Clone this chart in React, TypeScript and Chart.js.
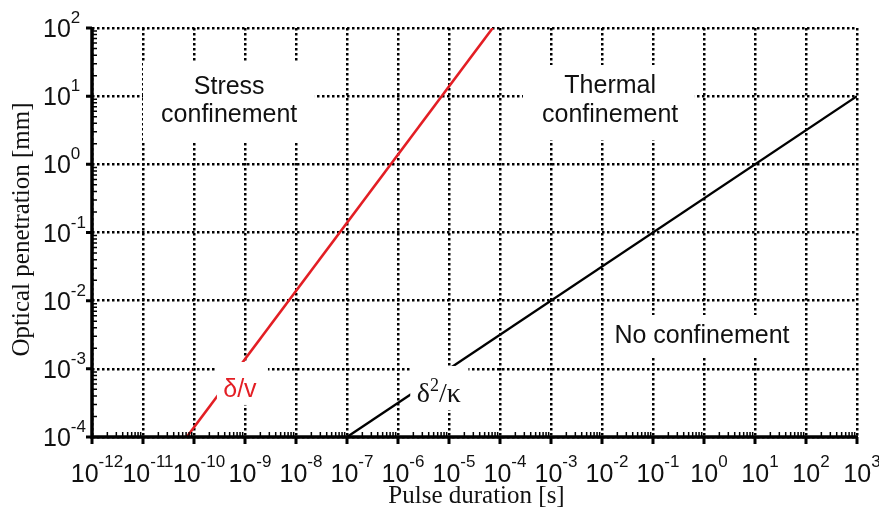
import React, { useEffect, useRef } from 'react';
import { Chart, registerables } from 'chart.js';

Chart.register(...registerables);

// Decade exponents for the log axes (tick labels are 10^e)
const xDecades = [-12, -11, -10, -9, -8, -7, -6, -5, -4, -3, -2, -1, 0, 1, 2, 3];
const yDecades = [-4, -3, -2, -1, 0, 1, 2];

// δ/v boundary (stress confinement)
const stressPulse = [7.2e-11, 7.2e-5];
const stressDepth = [1e-4, 1e2];

// δ²/κ boundary (thermal confinement)
const thermalPulse = [1e-7, 1e3];
const thermalDepth = [1e-4, 1e1];

const regionTexts = ['Stress', 'confinement', 'Thermal', 'confinement', 'No confinement'];
const curveTexts = ['δ/v', 'δ', '2', '/κ'];
const xTitle = 'Pulse duration [s]';
const yTitle = 'Optical penetration [mm]';

const SANS = '"Liberation Sans", Arial, sans-serif';
const SERIF = '"Liberation Serif", "Times New Roman", serif';

const decorPlugin = {
  id: 'decor',
  afterDatasetsDraw(chart: any) {
    const ctx = chart.ctx as CanvasRenderingContext2D;
    const xs = chart.scales.x;
    const ys = chart.scales.y;
    const ca = chart.chartArea;
    const px = (e: number) => xs.getPixelForValue(Math.pow(10, e));
    const py = (e: number) => ys.getPixelForValue(Math.pow(10, e));

    ctx.save();
    // white boxes behind the annotations
    const box = (x0: number, x1: number, y0: number, y1: number) => {
      ctx.fillStyle = '#ffffff';
      const a = px(x0), b = px(x1), c = py(y0), d = py(y1);
      ctx.fillRect(Math.min(a, b), Math.min(c, d), Math.abs(b - a), Math.abs(d - c));
    };
    box(-11.0, -7.63, 1.487, 0.328);
    box(-3.55, -0.18, 1.457, 0.357);
    box(-1.88, 1.88, -2.21, -2.826);
    box(-9.55, -8.55, -2.90, -3.53);
    box(-5.76, -4.62, -2.958, -3.604);

    // region texts
    ctx.fillStyle = '#111';
    ctx.textAlign = 'center';
    ctx.textBaseline = 'alphabetic';
    ctx.font = '25px ' + SANS;
    ctx.fillText(regionTexts[0], px(-9.31), py(1.032));
    ctx.fillText(regionTexts[1], px(-9.31), py(0.621));
    ctx.fillText(regionTexts[2], px(-1.84), py(1.047));
    ctx.fillText(regionTexts[3], px(-1.84), py(0.621));
    ctx.fillText(regionTexts[4], px(-0.04), py(-2.621));

    // δ/v
    ctx.fillStyle = '#e31e24';
    ctx.font = '25px ' + SANS;
    ctx.fillText(curveTexts[0], px(-9.10), py(-3.413));

    // δ²/κ
    ctx.fillStyle = '#111';
    ctx.textAlign = 'left';
    let tx = px(-5.63);
    const tb = py(-3.486);
    ctx.font = '28px ' + SERIF;
    ctx.fillText(curveTexts[1], tx, tb);
    tx += ctx.measureText(curveTexts[1]).width;
    ctx.font = '18px ' + SERIF;
    ctx.fillText(curveTexts[2], tx, tb - 11);
    tx += ctx.measureText(curveTexts[2]).width;
    ctx.font = '28px ' + SERIF;
    ctx.fillText(curveTexts[3], tx, tb);

    // axes
    ctx.strokeStyle = '#000';
    ctx.lineCap = 'butt';
    ctx.lineWidth = 3.5;
    ctx.beginPath();
    ctx.moveTo(ca.left, ca.top - 1);
    ctx.lineTo(ca.left, ca.bottom + 1.75);
    ctx.moveTo(ca.left - 1.75, ca.bottom);
    ctx.lineTo(ca.right + 1, ca.bottom);
    ctx.stroke();

    // major ticks (outward)
    ctx.lineWidth = 3;
    ctx.beginPath();
    xDecades.forEach((e) => {
      const x = px(e);
      ctx.moveTo(x, ca.bottom);
      ctx.lineTo(x, ca.bottom + 7);
    });
    yDecades.forEach((e) => {
      const y = py(e);
      ctx.moveTo(ca.left, y);
      ctx.lineTo(ca.left - 6, y);
    });
    ctx.stroke();

    // minor ticks (inward)
    ctx.lineWidth = 1.5;
    ctx.beginPath();
    xDecades.slice(0, -1).forEach((e) => {
      for (let k = 2; k <= 9; k++) {
        const x = xs.getPixelForValue(k * Math.pow(10, e));
        ctx.moveTo(x, ca.bottom);
        ctx.lineTo(x, ca.bottom - 5);
      }
    });
    yDecades.slice(0, -1).forEach((e) => {
      for (let k = 2; k <= 9; k++) {
        const y = ys.getPixelForValue(k * Math.pow(10, e));
        ctx.moveTo(ca.left, y);
        ctx.lineTo(ca.left + 5, y);
      }
    });
    ctx.stroke();

    // tick labels
    ctx.fillStyle = '#111';
    ctx.textAlign = 'left';
    ctx.textBaseline = 'alphabetic';
    xDecades.forEach((e) => {
      const x = px(e);
      ctx.font = '25px ' + SANS;
      const w1 = ctx.measureText('10').width;
      ctx.font = '17px ' + SANS;
      const es = String(e);
      const w2 = ctx.measureText(es).width;
      const start = x - (w1 + w2) / 2 + 5;
      ctx.font = '25px ' + SANS;
      ctx.fillText('10', start, ca.bottom + 45);
      ctx.font = '17px ' + SANS;
      ctx.fillText(es, start + w1, ca.bottom + 30);
    });
    yDecades.forEach((e) => {
      const y = py(e);
      const left = ca.left - 49;
      ctx.font = '25px ' + SANS;
      const w1 = ctx.measureText('10').width;
      ctx.fillText('10', left, y + 9);
      ctx.font = '17px ' + SANS;
      ctx.fillText(String(e), left + w1, y - 5);
    });

    // axis titles
    ctx.font = '25px ' + SERIF;
    ctx.textAlign = 'center';
    ctx.fillText(xTitle, (ca.left + ca.right) / 2 + 2, ca.bottom + 66);
    ctx.save();
    ctx.translate(29, (ca.top + ca.bottom) / 2 - 3);
    ctx.rotate(-Math.PI / 2);
    ctx.fillText(yTitle, 0, 0);
    ctx.restore();

    ctx.restore();
  },
};

export default function App() {
  const ref = useRef<HTMLCanvasElement | null>(null);

  useEffect(() => {
    if (!ref.current) return;
    const gridCommon = {
      color: '#000000',
      lineWidth: 2.5,
      drawTicks: false,
    };
    const chart = new Chart(ref.current, {
      type: 'line',
      data: {
        datasets: [
          {
            label: 'δ/v',
            data: stressPulse.map((x, i) => ({ x, y: stressDepth[i] })),
            borderColor: '#e31e24',
            borderWidth: 2.6,
            pointRadius: 0,
            fill: false,
          },
          {
            label: 'δ²/κ',
            data: thermalPulse.map((x, i) => ({ x, y: thermalDepth[i] })),
            borderColor: '#000000',
            borderWidth: 2.4,
            pointRadius: 0,
            fill: false,
          },
        ],
      },
      options: {
        animation: false,
        responsive: false,
        devicePixelRatio: 1,
        layout: { autoPadding: false, padding: { left: 92, right: 22, top: 28, bottom: 78 } },
        plugins: { legend: { display: false }, tooltip: { enabled: false } },
        scales: {
          x: {
            type: 'logarithmic',
            min: Math.pow(10, xDecades[0]),
            max: Math.pow(10, xDecades[xDecades.length - 1]),
            afterBuildTicks: (s: any) => {
              s.ticks = xDecades.map((e) => ({ value: Math.pow(10, e) }));
            },
            afterFit: (s: any) => {
              s.height = 0;
            },
            ticks: { display: false },
            grid: gridCommon,
            border: { display: false, dash: [2.5, 2.5] },
          },
          y: {
            type: 'logarithmic',
            min: Math.pow(10, yDecades[0]),
            max: Math.pow(10, yDecades[yDecades.length - 1]),
            afterBuildTicks: (s: any) => {
              s.ticks = yDecades.map((e) => ({ value: Math.pow(10, e) }));
            },
            afterFit: (s: any) => {
              s.width = 0;
            },
            ticks: { display: false },
            grid: gridCommon,
            border: { display: false, dash: [2.5, 2.5] },
          },
        },
      } as any,
      plugins: [decorPlugin],
    });
    return () => chart.destroy();
  }, []);

  return (
    <div style={{ position: 'fixed', left: 0, top: 0, width: 879, height: 515, background: '#fff' }}>
      <canvas ref={ref} width={879} height={515} style={{ width: 879, height: 515, display: 'block' }} />
    </div>
  );
}
